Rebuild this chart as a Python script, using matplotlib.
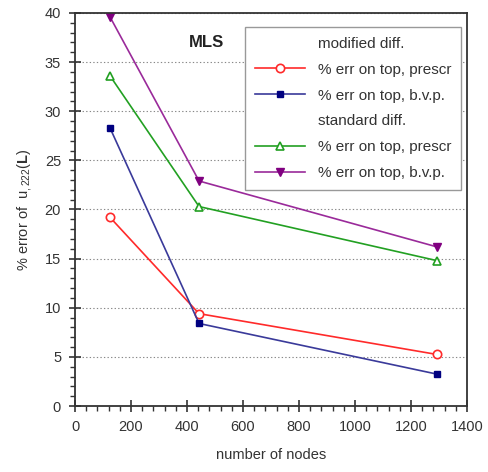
import numpy as np
import matplotlib
matplotlib.use('Agg')
import matplotlib.pyplot as plt
from matplotlib.lines import Line2D
from matplotlib.ticker import MultipleLocator

plt.rcParams['font.family'] = ['Liberation Sans', 'DejaVu Sans']
plt.rcParams['mathtext.fontset'] = 'custom'
plt.rcParams['mathtext.rm'] = 'Liberation Sans'
plt.rcParams['mathtext.it'] = 'Liberation Sans:italic'
plt.rcParams['mathtext.bf'] = 'Liberation Sans:bold'

## ---- data ----
nodes = [125, 443, 1292]
mod_prescr = [19.2, 9.4, 5.25]
mod_bvp = [28.3, 8.4, 3.25]
std_prescr = [33.6, 20.3, 14.8]
std_bvp = [39.6, 22.9, 16.2]

fig = plt.figure(figsize=(4.89, 4.72), dpi=100)
ax = fig.add_axes([0.1534, 0.1398, 0.8016, 0.8327])

ax.plot(nodes, mod_prescr, color='#ff2a2a', lw=1.2, marker='o', ms=6,
        mfc='white', mec='#ff2a2a', mew=1.2, label='% err on top, prescr')
ax.plot(nodes, mod_bvp, color='#3a3a9a', lw=1.2, marker='s', ms=5,
        mfc='#000080', mec='#000080', label='% err on top, b.v.p.')
ax.plot(nodes, std_prescr, color='#22a022', lw=1.2, marker='^', ms=6,
        mfc='white', mec='#22a022', mew=1.2, label='% err on top, prescr')
ax.plot(nodes, std_bvp, color='#9a2a9a', lw=1.2, marker='v', ms=6,
        mfc='#800080', mec='#800080', label='% err on top, b.v.p.')

ax.set_xlim(0, 1400)
ax.set_ylim(0, 40)
ax.xaxis.set_major_locator(MultipleLocator(200))
ax.xaxis.set_minor_locator(MultipleLocator(40))
ax.yaxis.set_major_locator(MultipleLocator(5))
ax.yaxis.set_minor_locator(MultipleLocator(1))
ax.tick_params(which='major', direction='inout', length=8, width=1.2,
               labelsize=10.5, colors='#333333', pad=6)
ax.tick_params(which='minor', direction='out', length=3.5, width=1.0, color='#333333')
ax.yaxis.grid(True, which='major', linestyle=(0, (1.2, 2)), color='#888888', lw=0.8)
ax.set_axisbelow(True)
for s in ax.spines.values():
    s.set_linewidth(1.3)
    s.set_color('#333333')

ax.set_xlabel('number of nodes', fontsize=10.5, color='#333333', labelpad=10)
ax.set_ylabel(r'% error of  u$_{\mathit{,222}}$($\mathbf{L}$)', fontsize=10.5,
              color='#333333', labelpad=8)

ax.text(0.335, 0.925, 'MLS', transform=ax.transAxes, fontsize=12,
        fontweight='bold', ha='center', va='center', color='#222222')

## legend with the two header rows
blank = Line2D([], [], linestyle='none', marker=None)
h = ax.get_lines()
handles = [blank, h[0], h[1], blank, h[2], h[3]]
labels = ['modified diff.', '% err on top, prescr', '% err on top, b.v.p.',
          'standard diff.', '% err on top, prescr', '% err on top, b.v.p.']
leg = ax.legend(handles, labels, loc='upper right', bbox_to_anchor=(0.985, 0.965),
                fontsize=11, frameon=True, fancybox=False, framealpha=1,
                edgecolor='#999999', handlelength=3.3, handletextpad=0.8,
                labelspacing=0.78, borderpad=0.65, borderaxespad=0)
leg.get_frame().set_linewidth(1.0)
for t in leg.get_texts():
    t.set_color('#333333')

fig.savefig('out.png', dpi=100)
